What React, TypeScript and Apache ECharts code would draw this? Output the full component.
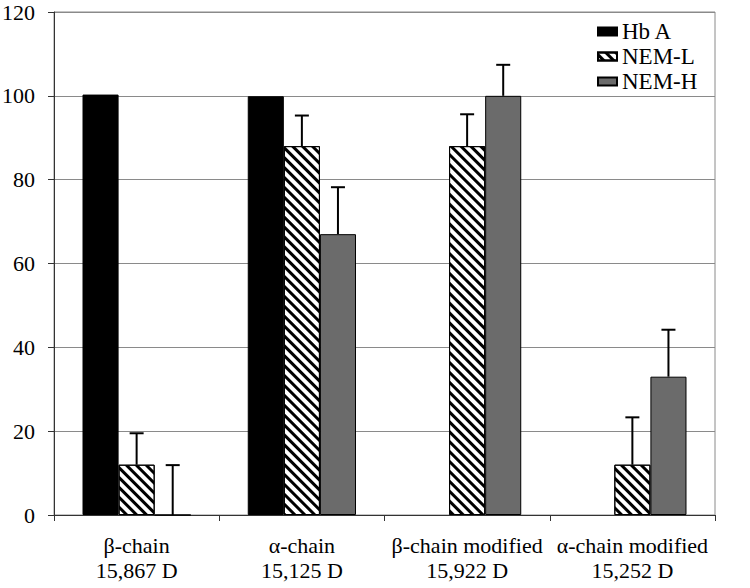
import React, { useEffect, useRef } from "react";
import * as echarts from "echarts";

const categories = [
  "β-chain\n15,867 D",
  "α-chain\n15,125 D",
  "β-chain modified\n15,922 D",
  "α-chain modified\n15,252 D",
];
const seriesNames = ["Hb A", "NEM-L", "NEM-H"];
const hbA: (number | null)[] = [100.3, 99.9, null, null];
const nemL: (number | null)[] = [12, 88, 88, 12];
const nemH: (number | null)[] = [0, 67, 100, 33];
const nemLErr: (number | null)[] = [7.5, 7.3, 7.6, 11.3];
const nemHErr: (number | null)[] = [11.9, 11.2, 7.4, 11.2];
const yTicks = { min: 0, max: 120, interval: 20 };

const FONT = "Liberation Serif";

export default function App() {
  const ref = useRef<HTMLDivElement>(null);
  useEffect(() => {
    if (!ref.current) return;
    const chart = echarts.init(ref.current, undefined, { renderer: "svg" });
    const errData: number[][] = [];
    nemL.forEach((v, i) => {
      if (v != null && nemLErr[i] != null) errData.push([i, 1, v, nemLErr[i] as number]);
    });
    nemH.forEach((v, i) => {
      if (v != null && nemHErr[i] != null) errData.push([i, 2, v, nemHErr[i] as number]);
    });
    const gapPct = 34.5;
    const barStyleBase = { borderColor: "#000", borderWidth: 1 };
    chart.setOption({
      animation: false,
      backgroundColor: "#fff",
      textStyle: { fontFamily: FONT },
      grid: {
        left: 54,
        right: 35,
        top: 12,
        bottom: 73,
        outerBoundsMode: "none",
        show: true,
        borderColor: "#8a8a8a",
        borderWidth: 1,
        backgroundColor: "transparent",
      },
      legend: {
        orient: "vertical",
        left: 597,
        top: 20,
        padding: 0,
        itemWidth: 19,
        itemHeight: 8,
        itemGap: 2,
        icon: "rect",
        data: seriesNames,
        textStyle: { fontFamily: FONT, fontSize: 23, color: "#000" },
      },
      xAxis: {
        type: "category",
        data: categories,
        axisLine: { lineStyle: { color: "#333", width: 1 } },
        axisTick: { show: true, length: 6, lineStyle: { color: "#333" } },
        axisLabel: {
          interval: 0,
          margin: 18,
          fontFamily: FONT,
          fontSize: 22,
          lineHeight: 25,
          color: "#000",
        },
        splitLine: { show: false },
      },
      yAxis: {
        type: "value",
        min: yTicks.min,
        max: yTicks.max,
        interval: yTicks.interval,
        axisLine: { show: true, lineStyle: { color: "#333", width: 1 } },
        axisTick: { show: true, length: 6, lineStyle: { color: "#333" } },
        axisLabel: {
          margin: 19,
          fontFamily: FONT,
          fontSize: 22,
          lineHeight: 20,
          padding: [4, 0, 0, 0],
          color: "#000",
        },
        splitLine: { lineStyle: { color: "#8a8a8a", width: 1 } },
      },
      series: [
        {
          name: seriesNames[0],
          type: "bar",
          data: hbA,
          barGap: "0%",
          barCategoryGap: gapPct + "%",
          itemStyle: { ...barStyleBase, color: "#000" },
        },
        {
          name: seriesNames[1],
          type: "bar",
          data: nemL,
          barGap: "0%",
          barCategoryGap: gapPct + "%",
          itemStyle: {
            ...barStyleBase,
            color: "#fff",
            decal: {
              symbol: "rect",
              symbolSize: 1,
              dashArrayX: [1, 0],
              dashArrayY: [3, 4],
              rotation: Math.PI / 4,
              color: "#000",
            },
          },
        },
        {
          name: seriesNames[2],
          type: "bar",
          data: nemH,
          barGap: "0%",
          barCategoryGap: gapPct + "%",
          itemStyle: { ...barStyleBase, color: "#6b6b6b" },
        },
        {
          type: "custom",
          z: 5,
          data: errData,
          encode: { x: 0, y: 2 },
          renderItem: (params: any, api: any) => {
            const cat = api.value(0);
            const s = api.value(1);
            const v = api.value(2);
            const e = api.value(3);
            const base = api.coord([cat, v]);
            const top = api.coord([cat, v + e]);
            const band = api.size([1, 0])[0];
            const bw = (band * (1 - gapPct / 100)) / 3;
            const x = base[0] + (s - 1) * bw;
            const cap = 7;
            return {
              type: "group",
              children: [
                {
                  type: "line",
                  shape: { x1: x, y1: base[1], x2: x, y2: top[1] },
                  style: { stroke: "#000", lineWidth: 2 },
                },
                {
                  type: "line",
                  shape: { x1: x - cap, y1: top[1], x2: x + cap, y2: top[1] },
                  style: { stroke: "#000", lineWidth: 2 },
                },
              ],
            };
          },
        },
      ],
    });
    return () => chart.dispose();
  }, []);
  return <div ref={ref} style={{ width: 750, height: 588, position: "absolute", left: 0, top: 0 }} />;
}
